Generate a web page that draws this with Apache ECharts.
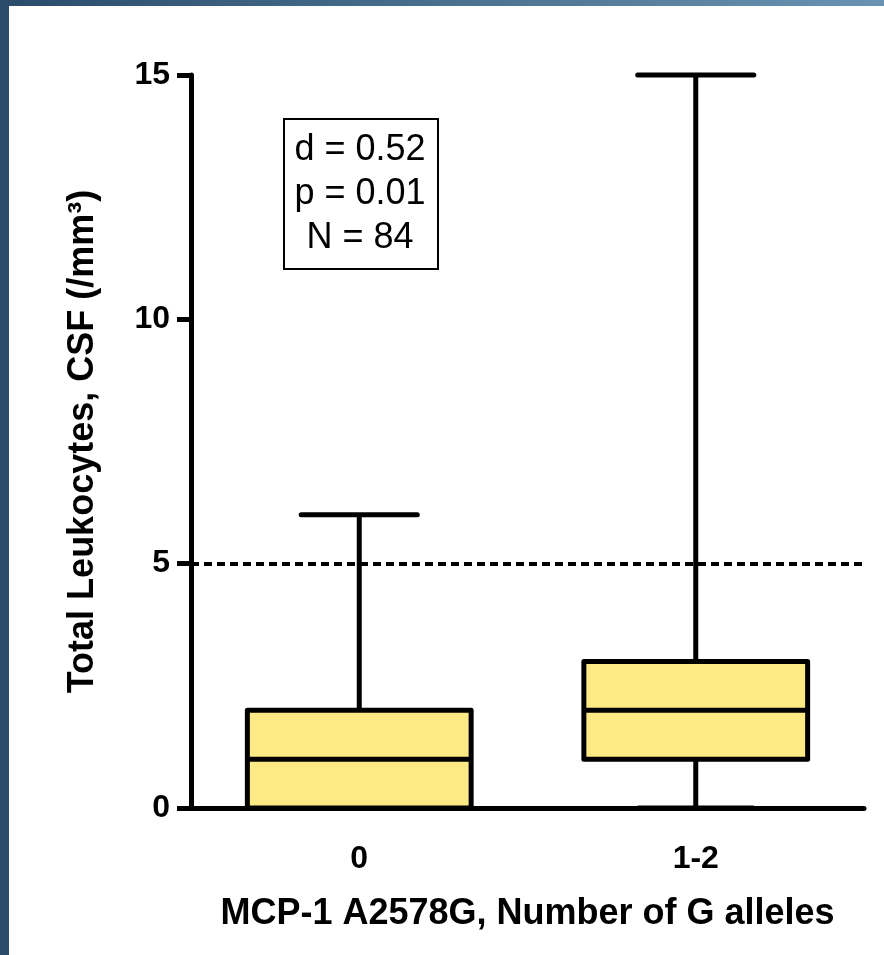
<!DOCTYPE html>
<html>
<head>
<meta charset="utf-8">
<script src="https://cdn.jsdelivr.net/npm/echarts@6/dist/echarts.min.js"></script>
<style>
  html, body { margin: 0; padding: 0; }
  body { width: 884px; height: 955px; background: linear-gradient(to right, #2a4c6a, #6a93b3); position: relative; overflow: hidden; }
  #bg { position: absolute; left: 9px; top: 6px; right: 0; bottom: 0; background: #ffffff; }
  #chart { position: absolute; left: 0; top: 0; width: 884px; height: 955px; }
</style>
</head>
<body>
<div id="bg"></div>
<div id="chart"></div>
<script>
// ---- data ----
const categories = ['0', '1-2'];
const minVals    = [0, 0];
const q1Vals     = [0, 1];
const medianVals = [1, 2];
const q3Vals     = [2, 3];
const maxVals    = [6, 15];
const yTicks     = [0, 5, 10, 15];
const thresholdValue = 5;
const statLines  = ['d = 0.52', 'p = 0.01', 'N = 84'];
const xAxisTitle = 'MCP-1 A2578G, Number of G alleles';
const yAxisTitle = 'Total Leukocytes, CSF (/mm\u00B3)';

const boxData = categories.map((c, i) => [i, minVals[i], q1Vals[i], medianVals[i], q3Vals[i], maxVals[i]]);

const FONT = '"Liberation Sans", Arial, sans-serif';
const chart = echarts.init(document.getElementById('chart'), null, { renderer: 'canvas' });

function renderBox(params, api) {
  const idx = api.value(0);
  const pMin = api.coord([idx, api.value(1)]);
  const pQ1  = api.coord([idx, api.value(2)]);
  const pMed = api.coord([idx, api.value(3)]);
  const pQ3  = api.coord([idx, api.value(4)]);
  const pMax = api.coord([idx, api.value(5)]);
  const band = api.size([1, 0])[0];
  const bw = band * 0.665;
  const cw = band * 0.345;
  const cx = pMed[0];
  const lw = 5;
  const stroke = { stroke: '#000', lineWidth: lw, lineCap: 'butt' };
  return {
    type: 'group',
    children: [
      { type: 'line', shape: { x1: cx, y1: pQ3[1], x2: cx, y2: pMax[1] }, style: stroke },
      { type: 'line', shape: { x1: cx, y1: pQ1[1], x2: cx, y2: pMin[1] }, style: stroke },
      { type: 'line', shape: { x1: cx - cw / 2, y1: pMax[1], x2: cx + cw / 2, y2: pMax[1] }, style: Object.assign({}, stroke, { lineCap: 'round' }) },
      { type: 'line', shape: { x1: cx - cw / 2, y1: pMin[1], x2: cx + cw / 2, y2: pMin[1] }, style: stroke },
      { type: 'rect', shape: { x: cx - bw / 2, y: pQ3[1], width: bw, height: pQ1[1] - pQ3[1] },
        style: { fill: '#fdea85', stroke: '#000', lineWidth: lw, lineJoin: 'round' } },
      { type: 'line', shape: { x1: cx - bw / 2, y1: pMed[1], x2: cx + bw / 2, y2: pMed[1] }, style: stroke }
    ]
  };
}

chart.setOption({
  backgroundColor: 'transparent',
  animation: false,
  grid: { left: 191, right: 20, top: 75, bottom: 147, containLabel: false },
  xAxis: {
    type: 'category',
    data: categories,
    boundaryGap: true,
    name: xAxisTitle,
    nameLocation: 'middle',
    nameGap: 88,
    nameTextStyle: { fontFamily: FONT, fontWeight: 'bold', fontSize: 36, color: '#000' },
    axisLine: { lineStyle: { color: '#000', width: 5 } },
    axisTick: { alignWithLabel: true, length: 14, lineStyle: { color: '#000', width: 5 } },
    axisLabel: { margin: 35, fontFamily: FONT, fontWeight: 'bold', fontSize: 32, color: '#000' },
    splitLine: { show: false }
  },
  yAxis: {
    type: 'value',
    min: yTicks[0],
    max: yTicks[yTicks.length - 1],
    interval: yTicks[1] - yTicks[0],
    name: yAxisTitle,
    nameLocation: 'middle',
    nameGap: 90,
    nameTextStyle: { fontFamily: FONT, fontWeight: 'bold', fontSize: 36, color: '#000' },
    axisLine: { show: true, lineStyle: { color: '#000', width: 5 } },
    axisTick: { show: true, length: 14, lineStyle: { color: '#000', width: 5 } },
    axisLabel: { margin: 21, fontFamily: FONT, fontWeight: 'bold', fontSize: 32, color: '#000' },
    splitLine: { show: false }
  },
  graphic: [
    { type: 'rect', left: 283, top: 118, shape: { width: 154, height: 150 },
      style: { fill: '#fff', stroke: '#000', lineWidth: 2 }, z: 10 },
    { type: 'text', x: 360, y: 194, z: 11,
      style: { text: statLines.join('\n'), fontFamily: FONT, fontSize: 36, lineHeight: 44,
               fill: '#000', align: 'center', verticalAlign: 'middle' } }
  ],
  series: [
    {
      type: 'custom',
      renderItem: renderBox,
      data: boxData,
      encode: { x: 0, y: [1, 2, 3, 4, 5] },
      z: 3,
      markLine: {
        silent: true,
        symbol: ['none', 'none'],
        label: { show: false },
        lineStyle: { color: '#000', width: 4, type: [8, 5] },
        data: [{ yAxis: thresholdValue }]
      }
    }
  ]
});
</script>
</body>
</html>
